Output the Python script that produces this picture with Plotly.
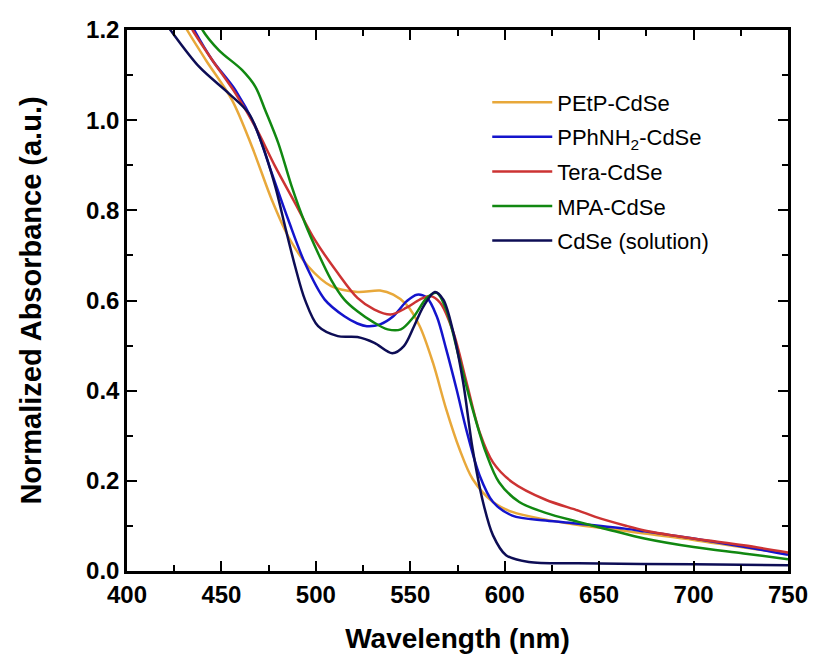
import plotly.graph_objects as go

# ---- data ----
names = ["PEtP-CdSe", "PPhNH<sub>2</sub>-CdSe", "Tera-CdSe", "MPA-CdSe", "CdSe (solution)"]
colors = ["#E8A83A", "#1414CC", "#CC3333", "#118811", "#0D0D55"]

wl_petp = [428, 431.8, 441.8, 455.7, 466.2, 476.7, 485.4, 495.9, 508.1, 522, 534, 541, 548, 555, 562, 569,
           576, 583, 593.8, 604, 621.7, 639, 663.6, 674, 700, 726.5, 750]
ab_petp = [1.23, 1.20, 1.133, 1.044, 0.941, 0.823, 0.742, 0.676, 0.632, 0.619, 0.622, 0.613, 0.591, 0.543,
           0.462, 0.359, 0.271, 0.204, 0.153, 0.131, 0.114, 0.102, 0.089, 0.083, 0.069, 0.052, 0.039]

wl_pph = [432, 435.6, 445.2, 457.5, 468, 476.7, 485.4, 494.2, 504.7, 515.1, 522, 527, 534, 541, 548, 553.5,
          558.8, 564, 569, 574.5, 580, 586.7, 593.8, 604, 621.7, 639, 663.6, 674, 700, 726.5, 750]
ab_pph = [1.23, 1.20, 1.133, 1.066, 0.985, 0.882, 0.779, 0.683, 0.602, 0.565, 0.549, 0.543, 0.547, 0.565,
          0.598, 0.613, 0.606, 0.565, 0.492, 0.403, 0.308, 0.212, 0.153, 0.123, 0.112, 0.105, 0.094, 0.088,
          0.072, 0.054, 0.036]

wl_tera = [431, 434.7, 445.2, 457.5, 468, 478.5, 489, 499.4, 511.6, 522, 531, 539.6, 548, 555, 560.5, 565.8,
           572.8, 579.8, 586.7, 593.8, 604, 621.7, 639, 648, 663.6, 674, 700, 726.5, 750]
ab_tera = [1.23, 1.20, 1.133, 1.059, 0.985, 0.897, 0.816, 0.735, 0.661, 0.606, 0.580, 0.569, 0.584, 0.602,
           0.610, 0.595, 0.529, 0.418, 0.308, 0.241, 0.197, 0.158, 0.134, 0.120, 0.101, 0.090, 0.072, 0.057,
           0.041]

wl_mpa = [437, 440, 448.7, 461, 468, 473.2, 480.2, 487.2, 494.2, 501.2, 508.1, 515.1, 522, 530, 538, 545,
          552, 558.8, 564, 569, 576, 583, 590, 597, 607.7, 621.7, 639, 656.6, 674, 700, 726.5, 750]
ab_mpa = [1.23, 1.20, 1.155, 1.111, 1.074, 1.022, 0.948, 0.853, 0.772, 0.705, 0.646, 0.602, 0.576, 0.553,
          0.536, 0.536, 0.565, 0.606, 0.617, 0.580, 0.470, 0.359, 0.263, 0.197, 0.153, 0.129, 0.109, 0.090,
          0.072, 0.053, 0.039, 0.026]

wl_sol = [418, 423, 438.3, 454, 464.5, 471.4, 478.5, 483.7, 489, 494.2, 501.2, 511.6, 522, 531, 540.5,
          546.6, 552, 557, 563, 567.5, 572.8, 578, 583, 588.5, 593.8, 600.7, 612.8, 639, 700, 750]
ab_sol = [1.23, 1.20, 1.118, 1.059, 1.015, 0.948, 0.853, 0.764, 0.676, 0.602, 0.543, 0.521, 0.519, 0.506,
          0.483, 0.499, 0.543, 0.587, 0.619, 0.602, 0.529, 0.418, 0.271, 0.153, 0.079, 0.035, 0.020, 0.017,
          0.015, 0.013]

xs = [wl_petp, wl_pph, wl_tera, wl_mpa, wl_sol]
ys = [ab_petp, ab_pph, ab_tera, ab_mpa, ab_sol]

x_ticks = [400, 450, 500, 550, 600, 650, 700, 750]
y_ticks = [0.0, 0.2, 0.4, 0.6, 0.8, 1.0, 1.2]

FONT = "Liberation Sans, Arial, sans-serif"

fig = go.Figure()
for i, (n, c, x, y) in enumerate(zip(names, colors, xs, ys)):
    fig.add_trace(go.Scatter(x=x, y=y, mode="lines", name=n, legendgroup=f"g{i}",
                             line=dict(color=c, width=2.5, shape="spline", smoothing=0.9)))

axis_common = dict(showline=True, linecolor="black", linewidth=2.5, mirror="ticks",
                   ticks="inside", ticklen=10, tickwidth=2, tickcolor="black",
                   showgrid=False, zeroline=False,
                   tickfont=dict(family=FONT, size=24, color="black", weight="bold"))

fig.update_xaxes(range=[400, 750], tickvals=x_ticks, ticktext=[str(v) for v in x_ticks],
                 minor=dict(ticks="inside", ticklen=6, tickwidth=2, tickcolor="black", dtick=25, tick0=400),
                 title=dict(text="Wavelength (nm)", standoff=22,
                            font=dict(family=FONT, size=28, color="black", weight="bold")),
                 **axis_common)
fig.update_yaxes(range=[0, 1.2], tickvals=y_ticks, ticktext=[f"{v:.1f}" for v in y_ticks],
                 minor=dict(ticks="inside", ticklen=6, tickwidth=2, tickcolor="black", dtick=0.1, tick0=0),
                 title=dict(text="Normalized Absorbance (a.u.)", standoff=36,
                            font=dict(family=FONT, size=29, color="black", weight="bold")),
                 **axis_common)

fig.update_layout(
    width=820, height=661,
    margin=dict(l=127, r=24, t=30, b=89),
    plot_bgcolor="white", paper_bgcolor="white",
    showlegend=True,
    legend=dict(x=0.545, y=0.905, xanchor="left", yanchor="top",
                font=dict(family=FONT, size=22, color="black"),
                bgcolor="rgba(0,0,0,0)", itemwidth=60, tracegroupgap=3,
                traceorder="grouped"),
)

fig.write_html("out.html")
